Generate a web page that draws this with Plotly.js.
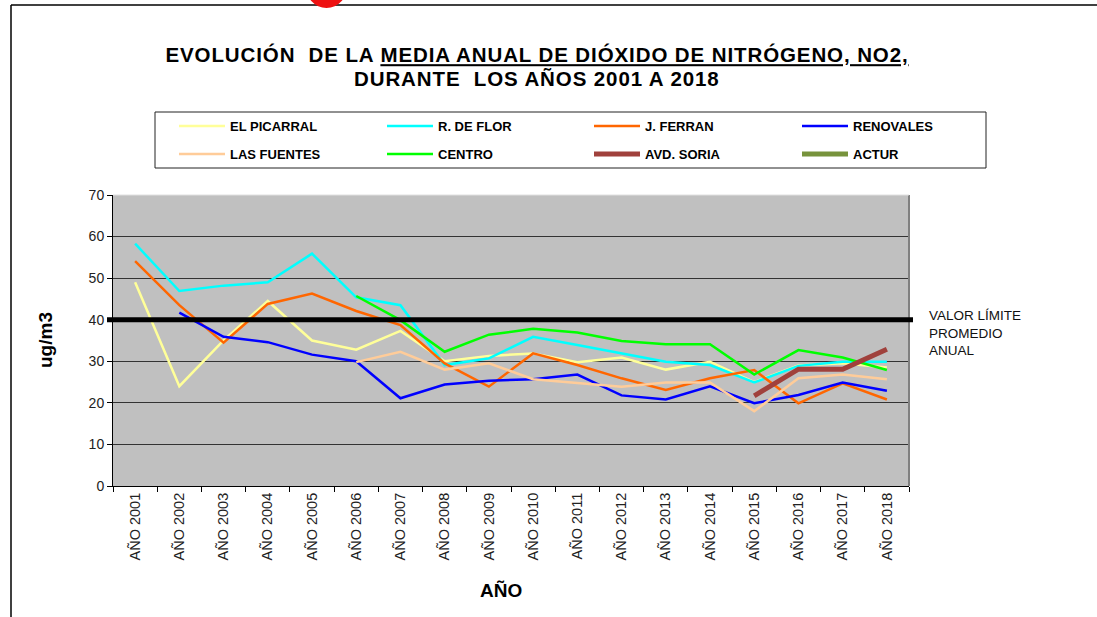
<!DOCTYPE html>
<html>
<head>
<meta charset="utf-8">
<script src="https://cdn.plot.ly/plotly-3.0.1.min.js"></script>
<style>body{margin:0;background:#fff}#chart{width:1097px;height:617px}</style>
</head>
<body>
<div id="chart"></div>
<script>
var years = ['AÑO 2001','AÑO 2002','AÑO 2003','AÑO 2004','AÑO 2005','AÑO 2006','AÑO 2007','AÑO 2008','AÑO 2009',
             'AÑO 2010','AÑO 2011','AÑO 2012','AÑO 2013','AÑO 2014','AÑO 2015','AÑO 2016','AÑO 2017','AÑO 2018'];

var elPicarral = [49, 24, 35, 44.5, 35, 32.8, 37.3, 30, 31.3, 31.9, 29.8, 30.9, 28, 29.9, 25, 29, 29.5, 28.5];
var rDeFlor    = [58.3, 46.9, 48.2, 49, 55.9, 45.4, 43.5, 29.1, 30.7, 35.9, 33.9, 31.9, 29.9, 29.1, 24.9, 28.9, 29.9, 29.9];
var jFerran    = [54.1, 43.5, 34.5, 43.8, 46.3, 42.1, 38.7, 29.5, 23.9, 31.9, 29.1, 25.9, 23.1, 25.9, 27.9, 19.9, 24.7, 20.8];
var renovales  = [null, 41.7, 35.9, 34.6, 31.6, 30, 21.1, 24.4, 25.3, 25.7, 26.8, 21.8, 20.8, 24, 19.9, 21.9, 24.9, 22.9];
var lasFuentes = [null, null, null, null, null, 29.8, 32.3, 28, 29.5, 25.7, 24.8, 23.9, 24.9, 24.9, 18, 25.9, 26.8, 25.7];
var centro     = [null, null, null, null, null, 45.7, 39.9, 32.3, 36.4, 37.8, 36.9, 34.9, 34.1, 34.1, 26.8, 32.7, 30.9, 27.9];
var avdSoria   = [null, null, null, null, null, null, null, null, null, null, null, null, null, null, 21.7, 28.1, 28.1, 32.9];
var actur      = [null, null, null, null, null, null, null, null, null, null, null, null, null, null, null, null, null, null];

var valorLimite = 40;

var FONT = 'Liberation Sans, Arial, sans-serif';

// pixel -> paper helpers (plot area 113..909 x 195..486)
function px(v) { return (v - 113) / 796; }
function py(v) { return (486 - v) / 291; }

function serie(name, y, color, width, leg) {
    return {
        x: years, y: y, name: name, type: 'scatter', mode: 'lines',
        line: {color: color, width: width}, legend: leg, hoverinfo: 'x+y+name'
    };
}

var data = [
    serie('EL PICARRAL', elPicarral, '#FFFF99', 2.5, 'legend'),
    serie('R. DE FLOR', rDeFlor, '#00FFFF', 2.5, 'legend2'),
    serie('J. FERRAN', jFerran, '#FF6600', 2.5, 'legend3'),
    serie('RENOVALES', renovales, '#0000FF', 2.5, 'legend4'),
    serie('LAS FUENTES', lasFuentes, '#FFCC99', 2.5, 'legend5'),
    serie('CENTRO', centro, '#00FF00', 2.5, 'legend6'),
    serie('AVD. SORIA', avdSoria, '#A0413C', 5, 'legend7'),
    serie('ACTUR', actur, '#77933C', 5, 'legend8')
];

// one small legend per entry, laid out as the 4x2 grid of the original
var legCols = [174, 382, 589, 797];
var legRows = [126, 154];
function leg(i) {
    return {
        orientation: 'h', itemwidth: 46,
        font: {family: FONT, size: 13, color: '#000', weight: 'bold'},
        bgcolor: 'rgba(0,0,0,0)', borderwidth: 0,
        x: px(legCols[i % 4]), y: py(legRows[Math.floor(i / 4)]),
        xanchor: 'left', yanchor: 'middle',
        itemclick: false, itemdoubleclick: false
    };
}

var layout = {
    width: 1097, height: 617,
    margin: {l: 113, r: 188, t: 195, b: 131, autoexpand: false},
    paper_bgcolor: '#ffffff',
    plot_bgcolor: '#C0C0C0',
    title: {
        text: '<span style="letter-spacing:0.9px">EVOLUCIÓN  DE LA <span style="text-decoration:underline">MEDIA ANUAL DE DIÓXIDO DE NITRÓGENO, NO2,</span></span>',
        font: {family: FONT, size: 20.5, color: '#000', weight: 'bold'},
        x: 537 / 1097, xanchor: 'center', y: 1 - 55 / 617, yanchor: 'middle'
    },
    showlegend: true,
    legend: leg(0), legend2: leg(1), legend3: leg(2), legend4: leg(3),
    legend5: leg(4), legend6: leg(5), legend7: leg(6), legend8: leg(7),
    xaxis: {
        type: 'category', range: [-0.5, 17.5], tickangle: -90, tickson: 'boundaries',
        ticks: 'outside', ticklen: 5, tickcolor: '#000',
        showline: true, linecolor: '#000', linewidth: 1,
        showgrid: false, zeroline: false,
        tickfont: {family: FONT, size: 14.5, color: '#222'}
    },
    yaxis: {
        range: [0, 70], dtick: 10, ticks: 'outside', ticklen: 5, tickcolor: '#000',
        showline: true, linecolor: '#000', linewidth: 1,
        gridcolor: '#333', gridwidth: 1, zeroline: false,
        tickfont: {family: FONT, size: 14, color: '#222'}
    },
    shapes: [
        // plot border right/top
        {type: 'line', xref: 'paper', yref: 'paper', x0: 1, x1: 1, y0: 0, y1: 1, line: {color: '#808080', width: 2}},
        {type: 'line', xref: 'paper', yref: 'paper', x0: 0, x1: 1, y0: 1, y1: 1, line: {color: '#e0e0e0', width: 1}},
        // limit value line
        {type: 'line', xref: 'paper', yref: 'y', x0: px(107), x1: px(913), y0: valorLimite, y1: valorLimite,
         line: {color: '#000', width: 5}},
        // legend box
        {type: 'rect', xref: 'paper', yref: 'paper', x0: px(155), x1: px(986), y0: py(168), y1: py(112),
         line: {color: '#222', width: 1}},
        // outer frame
        {type: 'line', xref: 'paper', yref: 'paper', x0: px(11), x1: px(1097), y0: py(5), y1: py(5), line: {color: '#000', width: 1.5}},
        {type: 'line', xref: 'paper', yref: 'paper', x0: px(11), x1: px(11), y0: py(5), y1: py(617), line: {color: '#000', width: 1.5}},
        // red mark at top
        {type: 'circle', xref: 'paper', yref: 'paper', x0: px(305), x1: px(348), y0: py(8), y1: py(-40),
         fillcolor: '#ee1111', line: {width: 0}}
    ],
    annotations: [
        {text: '<b><span style="letter-spacing:0.9px">DURANTE  LOS AÑOS 2001 A 2018</span></b>', xref: 'paper', yref: 'paper',
         x: px(537), y: py(78), xanchor: 'center', yanchor: 'middle', showarrow: false,
         font: {family: FONT, size: 20.5, color: '#000'}},
        {text: 'VALOR LÍMITE<br>PROMEDIO<br>ANUAL', xref: 'paper', yref: 'paper', x: px(927), y: py(333),
         xanchor: 'left', yanchor: 'middle', align: 'left', showarrow: false,
         font: {family: FONT, size: 13.5, color: '#111'}},
        {text: '<b>ug/m3</b>', xref: 'paper', yref: 'paper', x: px(45), y: py(340), textangle: -90,
         xanchor: 'center', yanchor: 'middle', showarrow: false,
         font: {family: FONT, size: 19, color: '#000'}},
        {text: '<b>AÑO</b>', xref: 'paper', yref: 'paper', x: px(501), y: py(590),
         xanchor: 'center', yanchor: 'middle', showarrow: false,
         font: {family: FONT, size: 19, color: '#000'}}
    ]
};

Plotly.newPlot('chart', data, layout, {displayModeBar: false});
</script>
</body>
</html>
